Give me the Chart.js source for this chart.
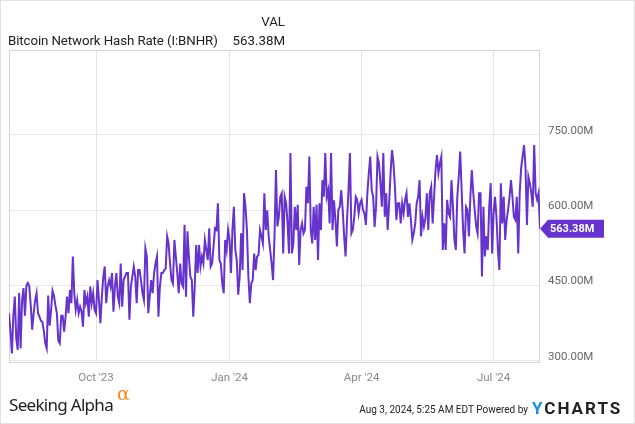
<!DOCTYPE html>
<html>
<head>
<meta charset="utf-8">
<script src="https://cdn.jsdelivr.net/npm/chart.js@4.4.1/dist/chart.umd.min.js"></script>
<style>
    body { margin: 0; background: #fff; }
    #wrap {
        position: relative;
        width: 635px;
        height: 424px;
        box-shadow: inset 0 0 0 1px #e2e2e2;
        font-family: Roboto, sans-serif;
        overflow: hidden;
    }
    #chart { position: absolute; left: 0; top: 0; }
    .txt { position: absolute; white-space: nowrap; }
</style>
</head>
<body>
<div id="wrap">
    <canvas id="chart" width="635" height="424"></canvas>
    <div class="txt" style="right:350px;top:14px;font-size:13.3px;color:#222;">VAL</div>
    <div class="txt" style="left:8px;top:33px;font-size:13.3px;color:#222;letter-spacing:-0.1px;">Bitcoin Network Hash Rate (I:BNHR)</div>
    <div class="txt" style="right:350px;top:33px;font-size:13.3px;color:#222;">563.38M</div>
    <div class="txt" style="left:9px;top:393px;font-family:'Noto Sans';font-size:17px;color:#1d1d1d;letter-spacing:-0.7px;">Seeking Alpha</div>
    <div class="txt" style="left:117px;top:382px;font-family:'DejaVu Serif';font-size:19px;color:#f7891f;">&alpha;</div>
    <div class="txt" style="right:107px;top:404px;font-size:10px;color:#222;">Aug 3, 2024, 5:25 AM EDT Powered by</div>
    <div class="txt" style="left:532px;top:398px;font-size:17px;font-weight:700;letter-spacing:2px;color:#222;"><span style="color:#1a8fe3;">Y</span>CHARTS</div>
</div>
<script>
const startDate = "2023-08-02";
const hashRate = [
    395, 360, 315, 390, 428, 345, 322, 435, 325, 420, 445, 390, 450, 455, 448, 410, 362, 395, 420, 435,
    395, 388, 380, 378, 360, 335, 325, 430, 370, 400, 440, 430, 410, 395, 340, 335, 390, 390, 358,
    388, 428, 395, 441, 415, 508, 435, 402, 421, 395, 408, 398, 368, 441, 415, 428, 388, 448, 415, 435,
    402, 395, 461, 421, 375, 428, 468, 488, 415, 448, 461, 448, 475, 398, 448, 475, 428,
    415, 494, 408, 461, 468, 475, 475, 382, 448, 468, 488, 468, 415, 481, 481, 461, 435, 421, 524, 508,
    395, 428, 461, 435, 475, 494, 508, 388, 448, 475, 475, 481, 484, 548, 534, 494,
    461, 454, 541, 508, 475, 435, 494, 454, 448, 571, 428, 558, 508, 468, 461, 388, 448, 531, 475, 531,
    488, 508, 494, 541, 521, 501, 564, 488, 494, 528, 564, 561, 614, 501, 494, 454, 435, 541,
    521, 561, 541, 475, 561, 607, 521, 501, 432, 468, 554, 481, 634, 607, 561, 468, 415, 454, 461, 514,
    481, 508, 511, 561, 548, 534, 634, 561, 600, 548, 521, 494, 461, 548, 680, 568, 587,
    627, 634, 514, 627, 614, 574, 514, 714, 514, 534, 607, 561, 611, 491, 561, 574, 554, 561, 647, 614,
    707, 561, 534, 607, 541, 611, 501, 614, 561, 660, 627, 714, 627, 640, 574, 714, 561,
    620, 581, 528, 601, 607, 640, 601, 548, 508, 581, 640, 714, 554, 561, 587, 627, 621, 594, 614, 621,
    601, 594, 571, 634, 674, 707, 640, 627, 567, 607, 707, 694, 654, 607, 714, 587, 634,
    561, 614, 674, 720, 694, 647, 581, 614, 614, 574, 614, 594, 621, 634, 587, 614, 581, 541, 554, 574,
    614, 627, 660, 548, 587, 568, 584, 634, 561, 634, 647, 574, 627, 680, 710, 674, 694,
    707, 521, 574, 521, 621, 594, 587, 660, 607, 541, 521, 627, 667, 717, 640, 561, 514, 607, 601, 548,
    627, 680, 634, 601, 568, 554, 634, 634, 468, 607, 508, 548, 521, 607, 654, 514, 594, 627,
    587, 521, 481, 654, 574, 627, 541, 581, 601, 627, 660, 627, 587, 581, 627, 514, 634, 684, 707, 730,
    687, 571, 667, 654, 634, 607, 730, 634, 621, 634, 563.38,
];
const tickDays = [60, 152, 243, 334];
const tickLabels = ["Oct '23", "Jan '24", "Apr '24", "Jul '24"];
const yTicks = [300, 450, 600, 750];

const lineColor = "#6633cc";

const frame = {
    id: "frame",
    beforeDatasetsDraw(chart) {
        const { ctx, chartArea } = chart;
        ctx.save();
        ctx.strokeStyle = "#d4d4d4";
        ctx.lineWidth = 1;
        ctx.strokeRect(
            Math.round(chartArea.left) + 0.5,
            Math.round(chartArea.top) + 0.5,
            Math.round(chartArea.right - chartArea.left) - 1,
            Math.round(chartArea.bottom - chartArea.top)
        );
        ctx.restore();
    },
};

const lastBadge = {
    id: "lastBadge",
    afterDatasetsDraw(chart) {
        const { ctx, chartArea } = chart;
        const last = hashRate[hashRate.length - 1];
        const y = chart.scales.y.getPixelForValue(last);
        const x = chartArea.right;
        ctx.save();
        ctx.fillStyle = lineColor;
        ctx.beginPath();
        ctx.moveTo(x, y);
        ctx.lineTo(x + 8, y - 9);
        ctx.lineTo(x + 64, y - 9);
        ctx.lineTo(x + 64, y + 9);
        ctx.lineTo(x + 8, y + 9);
        ctx.closePath();
        ctx.fill();
        ctx.fillStyle = "#fff";
        ctx.font = "bold 11px Roboto";
        ctx.textBaseline = "middle";
        ctx.fillText(last.toFixed(2) + "M", x + 10, y + 0.5);
        ctx.restore();
    },
};

const points = hashRate.map((v, i) => ({ x: i, y: v }));

new Chart(document.getElementById("chart"), {
    type: "line",
    data: {
        datasets: [
            {
                label: "Bitcoin Network Hash Rate (I:BNHR)",
                data: points,
                borderColor: lineColor,
                borderWidth: 2,
                pointRadius: 0,
                tension: 0,
                fill: false,
            },
        ],
    },
    options: {
        responsive: false,
        animation: false,
        devicePixelRatio: 1,
        layout: {
            padding: { left: 9, top: 50, right: 0, bottom: 0 },
        },
        plugins: {
            legend: { display: false },
            tooltip: { enabled: false },
        },
        scales: {
            x: {
                type: "linear",
                min: 0,
                max: hashRate.length - 1,
                afterBuildTicks: (scale) => {
                    scale.ticks = tickDays.map((value) => ({ value }));
                },
                afterFit: (scale) => {
                    scale.height = 62;
                },
                grid: { color: "#e4e4e4", drawTicks: false },
                border: { display: false },
                ticks: {
                    padding: 9,
                    maxRotation: 0,
                    autoSkip: false,
                    color: "#8a8a8a",
                    font: { family: "Roboto", size: 11.5 },
                    callback: (value) => tickLabels[tickDays.indexOf(value)],
                },
            },
            y: {
                position: "right",
                min: 297.8,
                max: 919.3,
                afterBuildTicks: (scale) => {
                    scale.ticks = yTicks.map((value) => ({ value }));
                },
                afterFit: (scale) => {
                    scale.width = 95;
                },
                grid: { color: "#e8e8e8", drawTicks: false },
                border: { display: false },
                ticks: {
                    padding: 8,
                    labelOffset: -4,
                    color: "#666",
                    font: { family: "Roboto", size: 11.5 },
                    callback: (value) => value.toFixed(2) + "M",
                },
            },
        },
    },
    plugins: [frame, lastBadge],
});
</script>
</body>
</html>
